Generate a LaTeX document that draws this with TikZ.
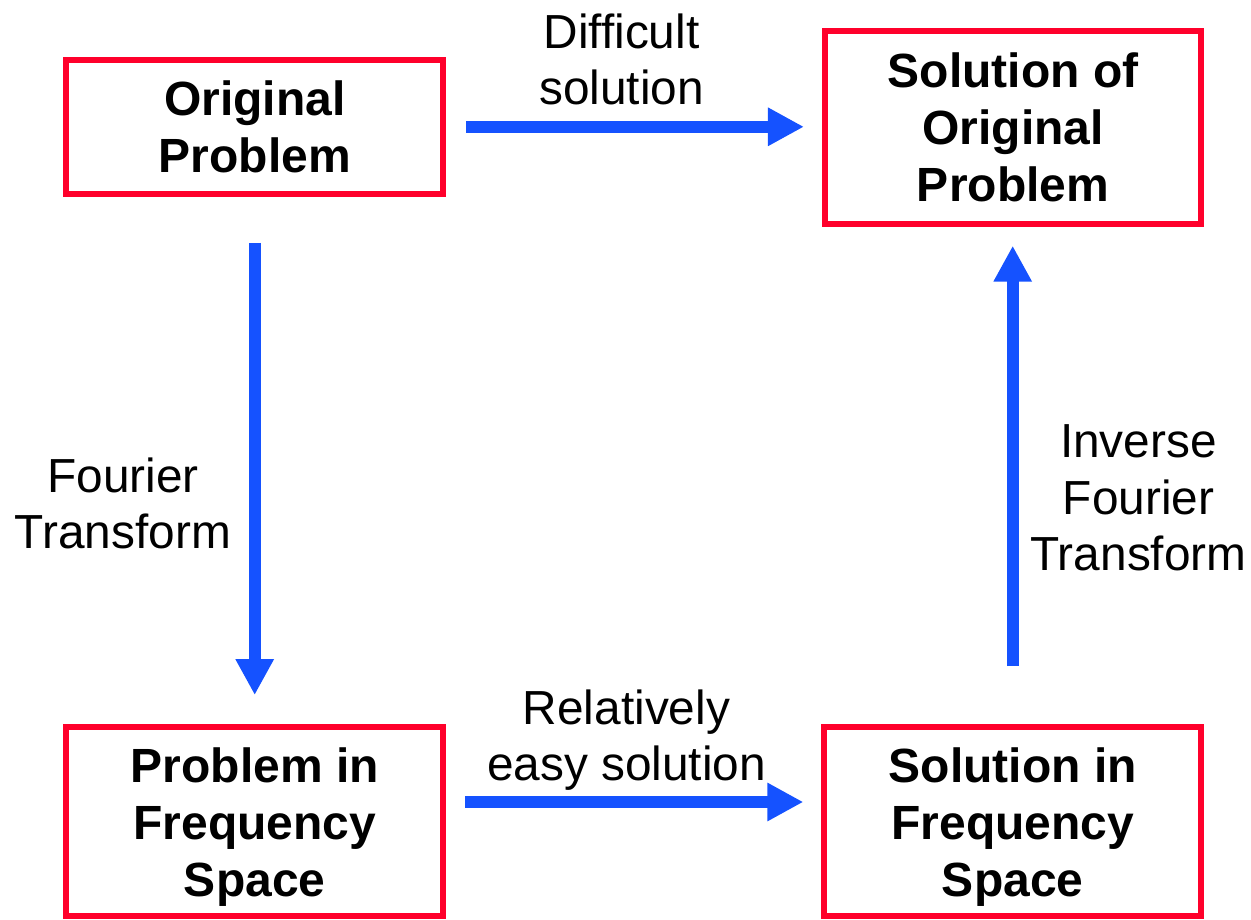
\documentclass[tikz,border=0pt]{standalone}
\usepackage{fontspec}
\setmainfont{Liberation Sans}
\usetikzlibrary{arrows.meta}
\definecolor{boxred}{RGB}{255,0,43}
\definecolor{arrblue}{RGB}{21,82,255}
\begin{document}
\begin{tikzpicture}[x=1pt,y=-1pt,
  box/.style={draw=boxred,line width=6pt,minimum width=376.7pt,align=center,
    font=\fontsize{48}{57}\selectfont\bfseries,text depth=0pt,inner sep=0pt},
  lbl/.style={align=center,font=\fontsize{47.8}{56.5}\selectfont,text depth=0pt,inner sep=0pt},
  arr/.style={draw=arrblue,line width=12pt,-{Triangle[length=36pt,width=36pt]}}]
\useasboundingbox (0,0) rectangle (1251,920);
\node[box,minimum height=134.3pt] (op) at (254.7,126.8) {Original\\Problem};
\node[box,minimum height=193pt] (so) at (1013,127.2) {Solution of\\Original\\Problem};
\node[box,minimum height=189.3pt] (pf) at (254.7,821.7) {Problem in\\Frequency\\Space};
\node[box,minimum height=189.3pt] (sf) at (1012.7,821.7) {Solution in\\Frequency\\Space};
\node[lbl] (l1) at (621.5,59) {Difficult\\solution};
\node[lbl] (l2) at (626.5,735) {Relatively\\easy solution};
\node[lbl] (l3) at (123,503) {Fourier\\Transform};
\node[lbl] (l4) at (1138.5,498) {Inverse\\Fourier\\Transform};
\draw[arr,shorten <=20.4pt,shorten >=17.7pt] (op.east) -- (op.east -| so.west);
\draw[arr,shorten <=46pt,shorten >=29pt] (op.south) -- (op.south |- pf.north);
\draw[arr,shorten <=58pt,shorten >=19pt] (sf.north) -- (sf.north |- so.south);
\draw[arr,shorten <=19pt,shorten >=18pt] ([yshift=19.7pt]pf.east) -- ([yshift=19.7pt]sf.west);
\end{tikzpicture}
\end{document}
